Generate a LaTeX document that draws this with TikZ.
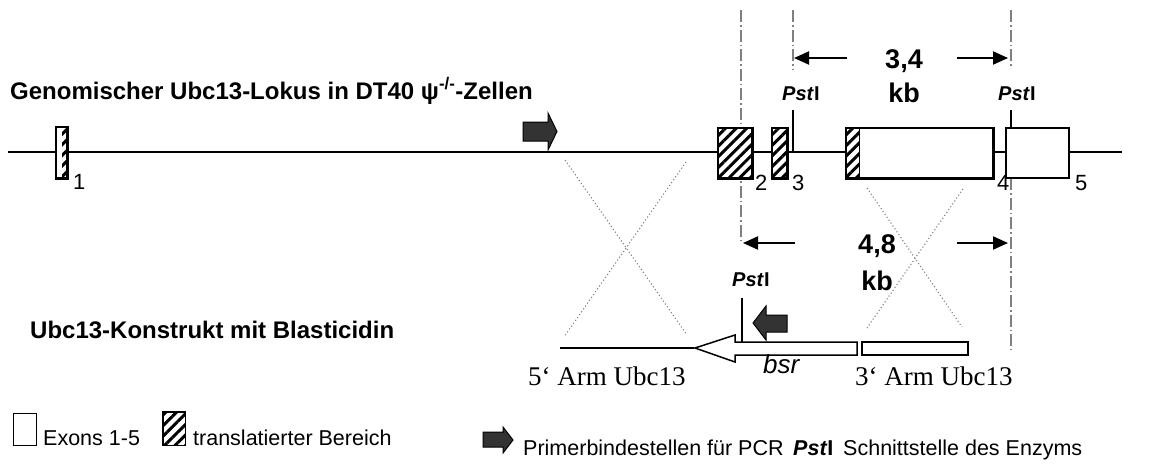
\documentclass[tikz,border=0pt]{standalone}
\usepackage{fontspec}
\setmainfont{Liberation Sans}
\newfontfamily\armfont{Liberation Serif}
\usetikzlibrary{patterns.meta,arrows.meta}
\tikzset{
  exon/.style={draw, line width=1.5pt, fill=white, rectangle, inner sep=0pt},
  hatch/.style={pattern={Lines[angle=45,distance=7.5pt,line width=3pt]}},
  ddline/.style={gray, line width=1.2pt, dash pattern=on 12pt off 3pt on 1.5pt off 3pt},
  dotx/.style={gray, line width=1.1pt, dash pattern=on 1.1pt off 2.4pt},
  sizearr/.style={-{Triangle[length=15pt,width=13pt]}, line width=2pt},
  bigtxt/.style={font=\fontsize{27}{30}\selectfont\bfseries, anchor=base},
  lbl/.style={font=\fontsize{24}{26}\selectfont\bfseries, anchor=base west, inner sep=0pt},
  num/.style={font=\fontsize{22}{24}\selectfont, anchor=base west, inner sep=0pt},
  pst/.style={font=\fontsize{20}{22}\selectfont\bfseries, anchor=base west, inner sep=0pt},
  leg/.style={font=\fontsize{21.5}{24}\selectfont, anchor=base west, inner sep=0pt},
  arm/.style={font=\armfont\fontsize{27}{30}\selectfont, anchor=base west, inner sep=0pt},
  primer/.style={draw=black, line width=1pt, fill=black!80},
  thin/.style={line width=1.5pt}
}
\begin{document}
\begin{tikzpicture}[x=1pt,y=-1pt]
\useasboundingbox (0,0) rectangle (1165,472);

% dash-dot reference lines
\coordinate (d1t) at (741,10);  \coordinate (d1b) at (741,243);
\coordinate (d2t) at (793,10);  \coordinate (d2b) at (793,70);
\coordinate (d3t) at (1011,10); \coordinate (d3b) at (1011,67);
\coordinate (d3c) at (1011,178); \coordinate (d3d) at (1011,350);
\draw[ddline] (d1t) -- (d1b);
\draw[ddline] (d2t) -- (d2b);
\draw[ddline] (d3t) -- (d3b);
\draw[ddline] (d3c) -- (d3d);

% main genomic line
\coordinate (L) at (8,152); \coordinate (R) at (1122,152);
\draw[thin] (L) -- (R);

% titles
\node[lbl] (title1) at (10,99) {Genomischer Ubc13-Lokus in DT40 ψ\textsuperscript{-/-}-Zellen};
\node[lbl] (title2) at (30,338) {Ubc13-Konstrukt mit Blasticidin};

% exons
\node[exon, minimum width=11pt, minimum height=51pt] (e1) at (61.5,152.5) {};
\fill[hatch] (62,127.5) rectangle (67,177.5);
\draw[line width=1.5pt] (e1.north west) rectangle (e1.south east);
\node[exon, minimum width=34pt, minimum height=50pt] (e2) at (735,153) {};
\fill[hatch] (e2.north west) rectangle (e2.south east);
\draw[line width=1.5pt] (e2.north west) rectangle (e2.south east);
\node[exon, minimum width=15pt, minimum height=50pt] (e3) at (779.5,153) {};
\fill[hatch] (e3.north west) rectangle (e3.south east);
\draw[line width=1.5pt] (e3.north west) rectangle (e3.south east);
\node[exon, minimum width=147pt, minimum height=50pt] (e4) at (919.5,153) {};
\fill[hatch] (e4.north west) rectangle ++(14,50);
\draw[line width=1.5pt] (e4.north west) ++(14,0) -- ++(0,50);
\draw[line width=1.5pt] (e4.north west) rectangle (e4.south east);
\node[exon, minimum width=63pt, minimum height=50pt] (e5) at (1037.5,153) {};

\node[num] (n1) at (73,189) {1};
\node[num] (n2) at (755,190) {2};
\node[num] (n3) at (792,190) {3};
\node[num] (n4) at (997,190) {4};
\node[num] (n5) at (1075,190) {5};

% PstI sites (genomic)
\node[pst] (p1) at (782,100) {\textit{Pst}I};
\node[pst] (p2) at (998,100) {\textit{Pst}I};
\coordinate (p1a) at (793,110); \coordinate (p1b) at (793,152);
\coordinate (p2a) at (1011,110);
\draw[thin] (p1a) -- (p1b);
\draw[thin] (p2a) -- (e5.north west -| p2a);

% 3,4 kb
\node[bigtxt] (s34) at (904,68) {3,4};
\node[bigtxt] (kb1) at (904,102) {kb};
\coordinate (a1s) at (847,58); \coordinate (a1e) at (794,58);
\coordinate (a2s) at (957,58); \coordinate (a2e) at (1008,58);
\draw[sizearr] (a1s) -- (a1e);
\draw[sizearr] (a2s) -- (a2e);

% primer arrow genomic
\draw[primer] (523,122) -- (548,122) -- (548,113) -- (557,131.5) -- (548,150) -- (548,141) -- (523,141) -- cycle;

% crossing lines
\coordinate (x1a) at (565,160); \coordinate (x1b) at (687,335);
\coordinate (x1c) at (686,162); \coordinate (x1d) at (564,337);
\draw[dotx] (x1a) -- (x1b);
\draw[dotx] (x1c) -- (x1d);
\coordinate (x2a) at (867,188); \coordinate (x2b) at (962,327);
\coordinate (x2c) at (963,189); \coordinate (x2d) at (867,328);
\draw[dotx] (x2a) -- (x2b);
\draw[dotx] (x2c) -- (x2d);

% 4,8 kb
\node[bigtxt] (s48) at (877,253) {4,8};
\node[bigtxt] (kb2) at (877,290) {kb};
\coordinate (b1s) at (795,243); \coordinate (b1e) at (743,243);
\coordinate (b2s) at (957,243); \coordinate (b2e) at (1008,243);
\draw[sizearr] (b1s) -- (b1e);
\draw[sizearr] (b2s) -- (b2e);

% construct
\coordinate (arm5a) at (560,348); \coordinate (arm5b) at (694,348);
\draw[thin] (arm5a) -- (arm5b);
\draw[thin, fill=white] (695,348) -- (735,335) -- (735,342) -- (857,342) -- (857,355) -- (735,355) -- (735,362) -- cycle;
\node[draw, line width=1.5pt, fill=white, minimum width=106pt, minimum height=13pt, inner sep=0pt] (arm3) at (915,348.5) {};
\node[pst] (p3) at (732,286) {\textit{Pst}I};
\coordinate (p3a) at (742,298); \coordinate (p3b) at (742,342);
\draw[thin] (p3a) -- (p3b);
\draw[primer] (787,315) -- (766,315) -- (766,306) -- (753,323) -- (766,340) -- (766,332) -- (787,332) -- cycle;

\node[arm] (t5) at (528,385) {5‘ Arm Ubc13};
\node[font=\fontsize{26}{28}\selectfont\itshape, anchor=base west, inner sep=0pt] (bsr) at (763,373) {bsr};
\node[arm] (t3) at (855,385) {3‘ Arm Ubc13};

% legend
\node[draw, line width=1pt, fill=white, minimum width=23pt, minimum height=32pt, inner sep=0pt] (lg1) at (24.5,429) {};
\node[leg] (lt1) at (43,445) {Exons 1-5};
\node[draw, line width=1pt, minimum width=22pt, minimum height=33pt, inner sep=0pt] (lg2) at (174,428.5) {};
\fill[hatch] (lg2.north west) rectangle (lg2.south east);
\draw[line width=1pt] (lg2.north west) rectangle (lg2.south east);
\node[leg] (lt2) at (193,445) {translatierter Bereich};
\draw[primer] (483,432) -- (503,432) -- (503,427) -- (513,440) -- (503,453) -- (503,447) -- (483,447) -- cycle;
\node[leg] (lt3) at (523,455) {Primerbindestellen für PCR};
\node[pst, font=\fontsize{21.5}{24}\selectfont\bfseries] (lt4) at (793,455) {\textit{Pst}I};
\node[leg] (lt5) at (843,455) {Schnittstelle des Enzyms};
\end{tikzpicture}
\end{document}
